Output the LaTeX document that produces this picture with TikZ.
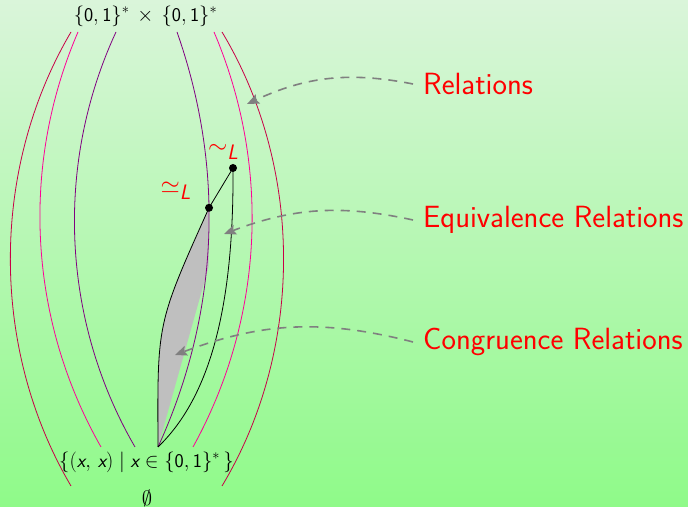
\documentclass[tikz,border=0pt]{standalone}
\usepackage{amsmath}
\usetikzlibrary{arrows.meta,calc}
\definecolor{bgtop}{RGB}{218,245,218}
\definecolor{bgbot}{RGB}{143,250,137}
\definecolor{crim}{RGB}{200,0,70}
\definecolor{hotpink}{RGB}{255,0,150}
\definecolor{purp}{RGB}{128,0,128}
\definecolor{lblred}{RGB}{255,0,0}
\newcommand\sfx{\textsf{\itshape x}}
\newcommand\sfL{\textsf{\itshape L}}
\begin{document}
\begin{tikzpicture}[x=1bp,y=1bp,
  arcline/.style={line width=0.8bp, looseness=0.9},
  blk/.style={line width=0.8bp, draw=black},
  pointer/.style={dash pattern=on 9bp off 7bp, line width=1.6bp, draw=black!50,
    -{Stealth[length=12bp,width=10bp,inset=2bp]}},
  biglabel/.style={text=lblred, font=\sffamily\fontsize{30.8}{36}\selectfont, inner sep=0pt, anchor=base west},
  eqlabel/.style={text=lblred, font=\fontsize{30}{36}\selectfont, inner sep=0pt, anchor=base west},
  setlabel/.style={font=\fontsize{19.5}{23}\selectfont, inner sep=0pt},
  dotmark/.style={circle, fill=black, inner sep=0pt, minimum size=8bp}]
\shade[top color=bgtop, bottom color=bgbot] (0,0) rectangle (688,507);
\useasboundingbox (0,0) rectangle (688,507);

% named points
\coordinate (V) at (158,60);
\coordinate (d2) at (233,339);

% gray region (drawn first)
\path[arcline] (177,475) to[bend left=22] coordinate[pos=0.42] (d1) (V);
\fill[black!25] (d1) .. controls ($(d1)+(-53,-118)$) and (157.5,185) .. (V) -- (208.5,240) -- cycle;

% nested arcs
\draw[arcline, crim] (71,475) to[bend right=30.5] (71,21);
\draw[arcline, crim] (222,475) to[bend left=31] (222,21);
\draw[arcline, hotpink] (78,475) to[bend right=26.5] (101,60);
\draw[arcline, hotpink] (214,475) to[bend left=26] (193,60);
\draw[arcline, purp] (116,475) to[bend right=27.5] (135,60);
\draw[arcline, purp] (177,475) to[bend left=22] (V);

% black curves
\draw[blk] (d2) -- (d1);
\draw[blk] (d1) .. controls ($(d1)+(-53,-118)$) and (157.5,185) .. (V);
\draw[blk] (d2) .. controls (234,200) and (210,110) .. (V);

\node[dotmark] (n1) at (d1) {};
\node[dotmark] (n2) at (d2) {};

\node[eqlabel] (l1) at (160.5,313) {$\simeq_{\sfL}$};
\node[eqlabel] (l2) at (208,353.5) {$\sim_{\sfL}$};

% set labels
\node[setlabel] (top) at (145.5,491) {$\{\textsf{0},\textsf{1}\}^*\,\times\,\{\textsf{0},\textsf{1}\}^*$};
\node[setlabel] (diag) at (146.5,45) {$\{(\sfx,\,\sfx)\mid\sfx\in\{\textsf{0},\textsf{1}\}^*\,\}$};
\node[setlabel] (empty) at (147,9) {$\emptyset$};

% right labels
\node[biglabel] (r1) at (423,412) {Relations};
\node[biglabel] (r2) at (423,279) {Equivalence Relations};
\node[biglabel] (r3) at (423,157) {Congruence Relations};

\coordinate (a1s) at (413,423);
\coordinate (a1e) at (247,403);
\coordinate (a2s) at (413,287);
\coordinate (a2e) at (224,273);
\coordinate (a3s) at (413,165);
\coordinate (a3e) at (175,152);
\draw[pointer] (a1s) to[bend right=18] (a1e);
\draw[pointer] (a2s) to[bend right=16.5] (a2e);
\draw[pointer] (a3s) to[bend right=17.5] (a3e);
\end{tikzpicture}
\end{document}
